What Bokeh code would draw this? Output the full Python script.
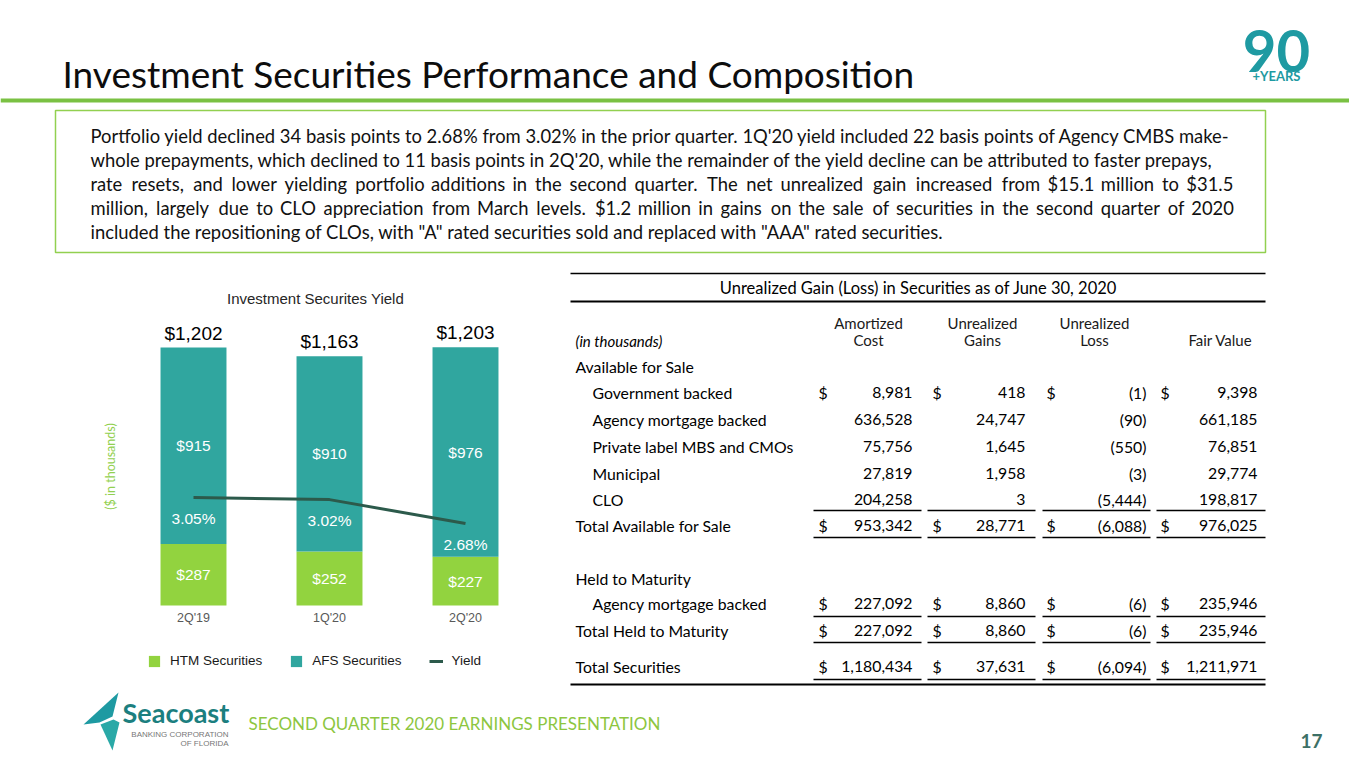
import math
from bokeh.plotting import figure
from bokeh.models import Range1d, ColumnDataSource, Legend, LegendItem
from bokeh.embed import file_html
from bokeh.resources import INLINE
from bokeh.core.properties import value

# ---------------- data ----------------
quarters = ["2Q'19", "1Q'20", "2Q'20"]
htm_securities = [287, 252, 227]
afs_securities = [915, 910, 976]
total_securities = [1202, 1163, 1203]
yield_pct = [3.05, 3.02, 2.68]

afs_names = ["Government backed", "Agency mortgage backed", "Private label MBS and CMOs", "Municipal", "CLO"]
afs_amortized = [8981, 636528, 75756, 27819, 204258]
afs_gains = [418, 24747, 1645, 1958, 3]
afs_losses = [-1, -90, -550, -3, -5444]
afs_fair = [9398, 661185, 76851, 29774, 198817]
afs_total = [953342, 28771, -6088, 976025]

htm_names = ["Agency mortgage backed"]
htm_amortized = [227092]
htm_gains = [8860]
htm_losses = [-6]
htm_fair = [235946]
htm_total = [227092, 8860, -6, 235946]

all_total = [1180434, 37631, -6094, 1211971]

table_title = "Unrealized Gain (Loss) in Securities as of June 30, 2020"
col_headers = [("Amortized", "Cost"), ("Unrealized", "Gains"), ("Unrealized", "Loss")]

paragraph = [
    "Portfolio yield declined 34 basis points to 2.68% from 3.02% in the prior quarter. 1Q'20 yield included 22 basis points of Agency CMBS make-",
    "whole prepayments, which declined to 11 basis points in 2Q'20, while the remainder of the yield decline can be attributed to faster prepays,",
    "rate resets, and lower yielding portfolio additions in the second quarter. The net unrealized gain increased from $15.1 million to $31.5",
    "million, largely due to CLO appreciation from March levels. $1.2 million in gains on the sale of securities in the second quarter of 2020",
    "included the repositioning of CLOs, with \"A\" rated securities sold and replaced with \"AAA\" rated securities.",
]

BODY = value("Lato")
ARIAL = value("Liberation Sans")


def fmt(v):
    return f"({-v:,})" if v < 0 else f"{v:,}"


# rough relative glyph widths (em) used only to spread words of justified lines
_W = {c: 0.556 for c in "abdeghnopqu0123456789$"}
_W.update({"c": 0.48, "k": 0.5, "s": 0.44, "v": 0.5, "x": 0.5, "y": 0.5, "z": 0.47, "f": 0.32,
           "t": 0.34, "i": 0.245, "j": 0.245, "l": 0.245, "r": 0.36, "m": 0.84, "w": 0.76,
           ".": 0.27, ",": 0.27, "'": 0.2, '"': 0.36, "-": 0.34, "%": 0.82, " ": 0.26,
           "(": 0.33, ")": 0.33, "M": 0.9, "C": 0.7, "L": 0.5, "O": 0.78, "T": 0.6,
           "A": 0.69, "S": 0.53, "Q": 0.78})


def est(word):
    return sum(_W.get(ch, 0.667 if ch.isupper() else 0.556) for ch in word)


# ---------------- one slide canvas (slide pixel coordinates, y downwards) ----------------
W, H = 1349, 753
X0, Y0 = 0, 0
p = figure(width=W, height=H, x_range=Range1d(X0, X0 + W), y_range=Range1d(Y0 + H, Y0),
           output_backend="svg", toolbar_location=None, min_border=0,
           x_axis_location=None, y_axis_location=None,
           outline_line_color=None, background_fill_color="white", border_fill_color="white")
p.grid.visible = False

# chart scales for the bar chart (mapped onto the slide area it occupies)
BAR_X0, BAR_STEP = 193, 136
BASE_Y, PX_PER_K = 605, 0.2146
Y_REF_V, Y_REF_PX, PX_PER_PCT = 3.05, 497, 70.3
bx_start = -(BAR_X0 - X0) / BAR_STEP
p.extra_x_ranges = {"bx": Range1d(bx_start, bx_start + W / BAR_STEP)}
p.extra_y_ranges = {
    "by": Range1d(-(Y0 + H - BASE_Y) / PX_PER_K, (BASE_Y - Y0) / PX_PER_K),
    "yield": Range1d(Y_REF_V - (Y0 + H - Y_REF_PX) / PX_PER_PCT, Y_REF_V + (Y_REF_PX - Y0) / PX_PER_PCT),
}

# ---------------- header ----------------
p.text(x=[62], y=[73], text=["Investment Securities Performance and Composition"],
       text_font=BODY, text_font_size="37px", text_color="#0d0d0d",
       text_baseline="middle", text_align="left")
p.segment(x0=[0], y0=[100], x1=[1365], y1=[100], line_color="#7AC143", line_width=4)
p.quad(left=[55], right=[1265], top=[110], bottom=[252], fill_color="white",
       line_color="#92D050", line_width=1.5)

# paragraph: lines 3 and 4 are spread (justified) across the box, the others drawn whole
PL, PR = 90, 1231
natural = {2: 1072, 3: 1074}   # rendered natural widths of the justified lines (px)
wx, wy, wt = [], [], []
for li, line in enumerate(paragraph):
    y = 135 + 24.2 * li
    if li not in natural:
        wx.append(PL); wy.append(y); wt.append(line)
        continue
    words = line.split(" ")
    ests = [est(w) for w in words]
    sp = _W[" "]
    tot = sum(ests) + sp * (len(words) - 1)
    scale = natural[li] / tot
    extra = (PR - PL) - natural[li]
    acc = 0.0
    for k, w in enumerate(words):
        wx.append(PL + scale * acc + k * extra / (len(words) - 1))
        wy.append(y); wt.append(w)
        acc += ests[k] + sp
p.text(x=wx, y=wy, text=wt, text_font=BODY, text_font_size="18.4px", text_color="#111111",
       text_baseline="middle", text_align="left")

# 90 + YEARS mark
p.text(x=[1276], y=[50], text=["90"], text_font=BODY, text_font_size="58px",
       text_font_style="bold", text_color="#1E9AA2", text_baseline="middle", text_align="center")
p.text(x=[1276], y=[75], text=["+YEARS"], text_font=BODY, text_font_size="13px",
       text_font_style="bold", text_color="#1E9AA2", text_baseline="middle", text_align="center")

# ---------------- bar chart ----------------
q_idx = list(range(len(quarters)))
src = ColumnDataSource(dict(q=q_idx, htm=htm_securities, afs=afs_securities))
stack = p.vbar_stack(["htm", "afs"], x="q", width=0.485, color=["#92D33F", "#30A69F"],
                     line_color=None, source=src, x_range_name="bx", y_range_name="by")
yl = p.line(x=q_idx, y=yield_pct, x_range_name="bx", y_range_name="yield",
            line_color="#2C5A4B", line_width=3)

htm_mid = [h / 2 for h in htm_securities]
afs_mid = [h + a / 2 for h, a in zip(htm_securities, afs_securities)]
p.text(x=q_idx, y=htm_mid, text=[f"${v:,}" for v in htm_securities], x_range_name="bx", y_range_name="by",
       text_font=ARIAL, text_font_size="15.5px", text_color="white", text_align="center", text_baseline="middle")
p.text(x=q_idx, y=afs_mid, text=[f"${v:,}" for v in afs_securities], x_range_name="bx", y_range_name="by",
       text_font=ARIAL, text_font_size="15.5px", text_color="white", text_align="center", text_baseline="middle")
p.text(x=q_idx, y=total_securities, text=[f"${v:,}" for v in total_securities], x_range_name="bx",
       y_range_name="by", text_font=ARIAL, text_font_size="19px", text_color="#000000",
       text_align="center", text_baseline="bottom", y_offset=-4)
p.text(x=q_idx, y=yield_pct, text=[f"{v:.2f}%" for v in yield_pct], x_range_name="bx", y_range_name="yield",
       text_font=ARIAL, text_font_size="15.5px", text_color="white", text_align="center",
       text_baseline="middle", y_offset=21)
p.text(x=q_idx, y=[617] * len(q_idx), text=quarters, x_range_name="bx",
       text_font=ARIAL, text_font_size="12.5px", text_color="#595959", text_align="center",
       text_baseline="middle")
p.text(x=[315], y=[298], text=["Investment Securites Yield"], text_font=ARIAL, text_font_size="15px",
       text_color="#262626", text_align="center", text_baseline="middle")
p.text(x=[110], y=[466], text=["($ in thousands)"], angle=math.pi / 2, text_font=BODY,
       text_font_size="12.5px", text_color="#92D050", text_align="center", text_baseline="middle")

legend = Legend(items=[LegendItem(label="HTM Securities", renderers=[stack[0]]),
                       LegendItem(label="AFS Securities", renderers=[stack[1]]),
                       LegendItem(label="Yield", renderers=[yl])],
                orientation="horizontal", location=(147, 85), border_line_color=None,
                background_fill_alpha=0, label_text_font="Liberation Sans",
                label_text_font_size="13.5px", label_text_color="#1a1a1a",
                glyph_width=14, glyph_height=14, spacing=27, label_standoff=9,
                padding=0, margin=0)
p.add_layout(legend)

# ---------------- table ----------------
TL, TR = 570, 1265
p.segment(x0=[TL], y0=[273], x1=[TR], y1=[273], line_color="#000000", line_width=1.5)
p.text(x=[918], y=[287], text=[table_title], text_font=BODY, text_font_size="16.5px",
       text_color="#000000", text_align="center", text_baseline="middle")
p.segment(x0=[TL], y0=[301], x1=[TR], y1=[301], line_color="#000000", line_width=2)

hx = [868, 982, 1094]
p.text(x=hx, y=[322] * 3, text=[h[0] for h in col_headers], text_font=BODY, text_font_size="15px",
       text_color="#1a1a1a", text_align="center", text_baseline="middle")
p.text(x=hx + [1252], y=[339] * 4, text=[h[1] for h in col_headers] + ["Fair Value"], text_font=BODY,
       text_font_size="15px", text_color="#1a1a1a", text_align=["center", "center", "center", "right"],
       text_baseline="middle")
p.text(x=[575], y=[340], text=["(in thousands)"], text_font=BODY, text_font_size="15px",
       text_font_style="italic", text_color="#000000", text_align="left", text_baseline="middle")

dollar_x = [818, 932, 1046, 1160]
right_x = [912, 1025, 1146, 1257]
seg_lo = [813, 927, 1042, 1156]
seg_hi = [921, 1035, 1150, 1265]

rows = []  # (label, x, values or None, dollar, y)
rows.append(("Available for Sale", 575, None, False, 366))
afs_y = [392, 419, 446, 473, 499]
for i, n in enumerate(afs_names):
    rows.append((n, 592, [afs_amortized[i], afs_gains[i], afs_losses[i], afs_fair[i]], i == 0, afs_y[i]))
rows.append(("Total Available for Sale", 575, afs_total, True, 525))
rows.append(("Held to Maturity", 575, None, False, 578))
for i, n in enumerate(htm_names):
    rows.append((n, 592, [htm_amortized[i], htm_gains[i], htm_losses[i], htm_fair[i]], True, 603))
rows.append(("Total Held to Maturity", 575, htm_total, True, 630))
rows.append(("Total Securities", 575, all_total, True, 666))

lx, ly, lt = [], [], []
vx, vy, vt = [], [], []
dx, dy = [], []
for label, x, vals, dollar, y in rows:
    lx.append(x); ly.append(y); lt.append(label)
    if vals is not None:
        for j, v in enumerate(vals):
            vx.append(right_x[j]); vy.append(y); vt.append(fmt(v))
            if dollar:
                dx.append(dollar_x[j]); dy.append(y)

p.text(x=lx, y=ly, text=lt, text_font=BODY, text_font_size="15.8px", text_color="#000000",
       text_align="left", text_baseline="middle")
p.text(x=vx, y=vy, text=vt, text_font=BODY, text_font_size="15.8px", text_color="#000000",
       text_align="right", text_baseline="middle")
p.text(x=dx, y=dy, text=["$"] * len(dx), text_font=BODY, text_font_size="15.8px", text_color="#000000",
       text_align="left", text_baseline="middle")

for uy in [510, 537, 616, 642, 679]:
    p.segment(x0=seg_lo, y0=[uy] * 4, x1=seg_hi, y1=[uy] * 4, line_color="#000000", line_width=1.3)
p.segment(x0=[TL], y0=[684], x1=[TR], y1=[684], line_color="#000000", line_width=1.8)

# ---------------- footer ----------------
p.patch(x=[83, 118, 112, 99], y=[724, 692, 716, 722], fill_color="#1E9AA2", line_color=None)
p.patch(x=[100, 113, 119, 112], y=[724, 719, 722, 750], fill_color="#2AA9A7", line_color=None)
p.text(x=[122], y=[712], text=["Seacoast"], text_font=BODY, text_font_size="27px",
       text_font_style="bold", text_color="#1C7F7F", text_align="left", text_baseline="middle")
p.text(x=[228], y=[734], text=["BANKING CORPORATION"], text_font=ARIAL, text_font_size="8px",
       text_color="#777777", text_align="right", text_baseline="middle")
p.text(x=[228], y=[743], text=["OF FLORIDA"], text_font=ARIAL, text_font_size="8px",
       text_color="#777777", text_align="right", text_baseline="middle")
p.text(x=[248], y=[723], text=["SECOND QUARTER 2020 EARNINGS PRESENTATION"], text_font=BODY,
       text_font_size="17px", text_color="#8DC63F", text_align="left", text_baseline="middle")
p.text(x=[1311], y=[740], text=["17"], text_font=BODY, text_font_size="19px", text_font_style="bold",
       text_color="#3D7066", text_align="center", text_baseline="middle")

open("out.html", "w").write(file_html(p, INLINE))
